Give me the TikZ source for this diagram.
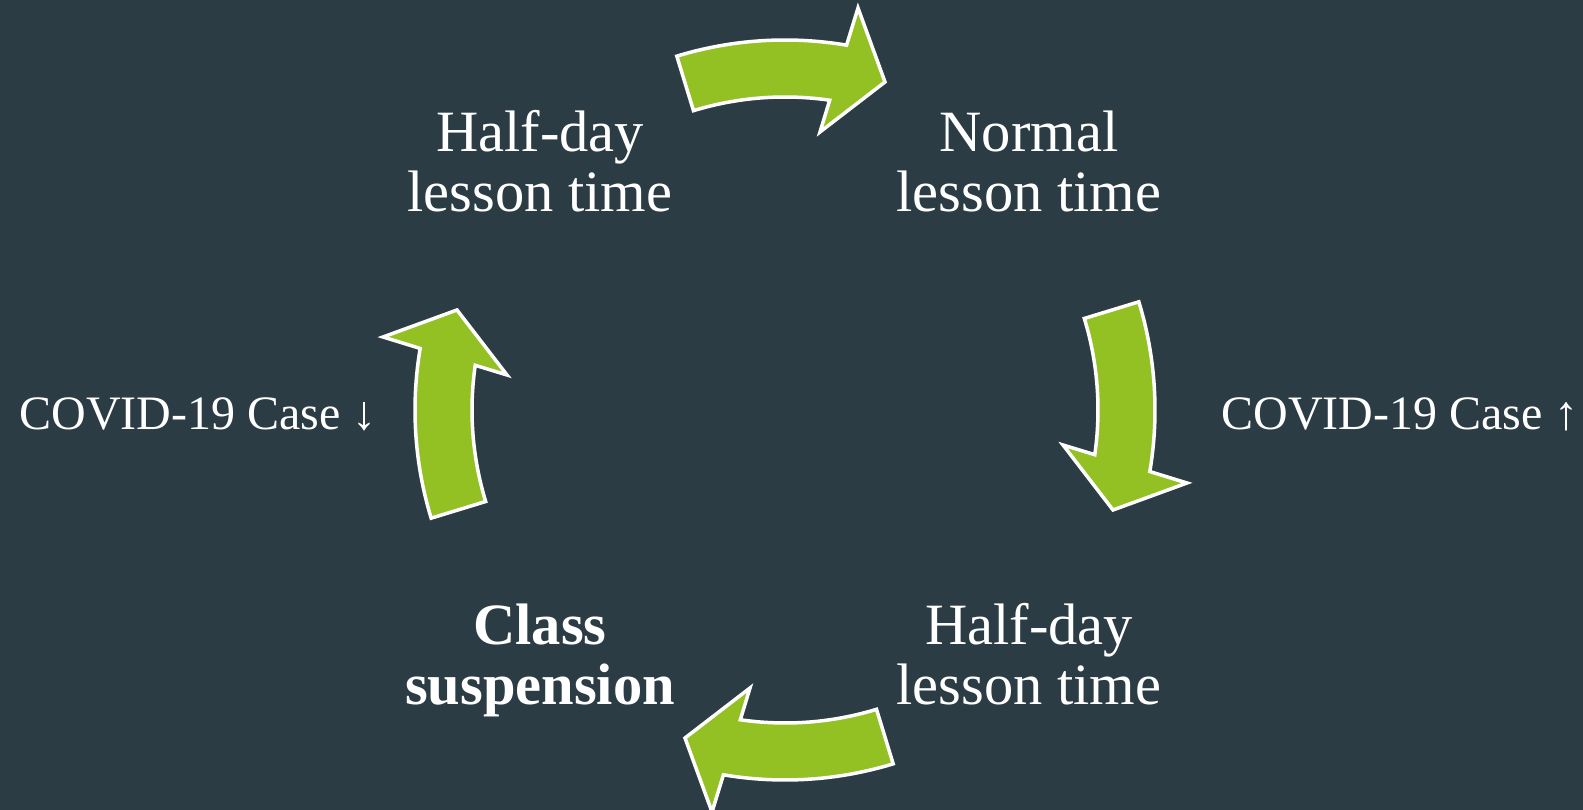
\documentclass[tikz,border=0pt]{standalone}
\usepackage{fontspec}
\setmainfont{Liberation Serif}
\definecolor{slate}{HTML}{2C3C44}
\definecolor{leafgreen}{HTML}{93C124}
\begin{document}
\begin{tikzpicture}[x=1pt,y=1pt,
  cyclearrow/.style={fill=leafgreen,draw=white,line width=3.5pt,line join=miter},
  stage/.style={text=white,inner sep=0pt,anchor=base,font=\fontsize{58.5}{60}\selectfont},
  trend/.style={text=white,inner sep=0pt,anchor=base,font=\fontsize{48}{56}\selectfont}]
% background
\fill[slate] (0,0) rectangle (1583,810);
\useasboundingbox (0,0) rectangle (1583,810);
% centre of the cycle
\coordinate (hub) at (785,400);
% four curved block arrows, turning clockwise
\foreach \turn in {0,-90,-180,-270}{
  \begin{scope}[shift={(hub)},rotate=\turn]
    \draw[cyclearrow] (107:313) -- (107:370)
      arc[start angle=107,end angle=80.42,radius=370]
      -- (73,402) -- (100,328) -- (35,278) -- (81.79:313)
      arc[start angle=81.79,end angle=107,radius=313] -- cycle;
  \end{scope}
}
% stages
\node[stage] (halfdayA) at (540,658) {\begin{tabular}[t]{@{}c@{}}Half-day\\lesson time\end{tabular}};
\node[stage] (normal) at (1029,658) {\begin{tabular}[t]{@{}c@{}}Normal\\lesson time\end{tabular}};
\node[stage] (halfdayB) at (1029,165) {\begin{tabular}[t]{@{}c@{}}Half-day\\lesson time\end{tabular}};
\node[stage] (suspension) at (540,165) {\begin{tabular}[t]{@{}c@{}}\bfseries Class\\\bfseries suspension\end{tabular}};
% case trends
\node[trend] (caseup) at (1400,380) {COVID-19 Case ↑};
\node[trend] (casedown) at (198,380) {COVID-19 Case ↓};
\end{tikzpicture}
\end{document}
